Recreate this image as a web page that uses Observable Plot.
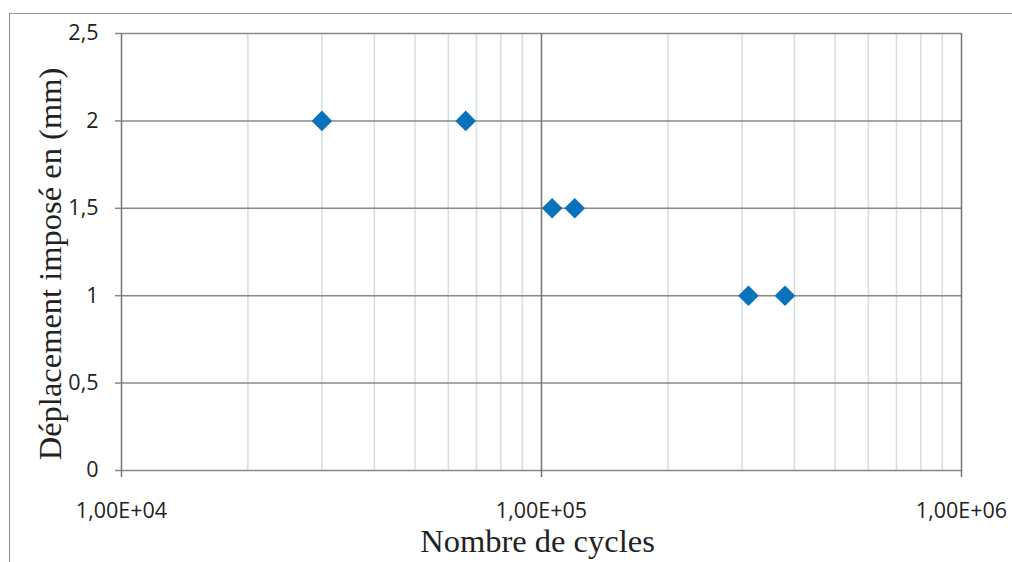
<!DOCTYPE html>
<html>
<head>
<meta charset="utf-8">
<script src="https://cdn.jsdelivr.net/npm/d3@7"></script>
<script src="https://cdn.jsdelivr.net/npm/@observablehq/plot@0.6"></script>
<style>
  html, body { margin: 0; padding: 0; background: #fff; }
  #wrap { position: relative; width: 1012px; height: 562px; overflow: hidden; }
  #frame { position: absolute; left: 9px; top: 13px; width: 1010px; height: 560px;
           border-left: 1.5px solid #8c8c8c; border-top: 1.5px solid #9a9a9a; pointer-events: none; }
</style>
</head>
<body>
<div id="wrap"><div id="frame"></div></div>
<script>
// Data
const cycles = [30000, 66000, 106000, 120000, 311000, 380000];
const displacement = [2, 2, 1.5, 1.5, 1, 1];
const yTicks = [0, 0.5, 1, 1.5, 2, 2.5];
const xMajorTicks = [1e4, 1e5, 1e6];
const xMinorTicks = [2e4, 3e4, 4e4, 5e4, 6e4, 7e4, 8e4, 9e4, 2e5, 3e5, 4e5, 5e5, 6e5, 7e5, 8e5, 9e5];
const xLabel = "Nombre de cycles";
const yLabel = "Déplacement imposé en (mm)";

const points = cycles.map((c, i) => ({cycles: c, disp: displacement[i]}));
const fmtX = d => "1,00E+" + String(Math.round(Math.log10(d))).padStart(2, "0");
const fmtY = d => String(d).replace(".", ",");

const chart = Plot.plot({
  width: 1012,
  height: 562,
  marginLeft: 121,
  marginRight: 51,
  marginTop: 33,
  marginBottom: 92,
  style: {background: "transparent", fontFamily: "'Open Sans', sans-serif"},
  x: {type: "log", domain: [1e4, 1e6]},
  y: {domain: [0, 2.5]},
  marks: [
    Plot.ruleX(xMinorTicks, {stroke: "#d3dfe2", strokeWidth: 1.5}),
    Plot.ruleY(yTicks, {stroke: "#888888", strokeWidth: 1.5, x1: 1e4, x2: 1e6}),
    Plot.ruleX(xMajorTicks, {stroke: "#747474", strokeWidth: 1.5}),
    Plot.axisY({ticks: yTicks, tickFormat: fmtY, tickSize: 6, tickPadding: 17,
      fontSize: 21.5, stroke: "#888888", strokeWidth: 1.5, color: "#222", label: null}),
    Plot.axisX({ticks: xMajorTicks, tickFormat: fmtX, tickSize: 7, tickPadding: 25,
      fontSize: 21.5, stroke: "#747474", strokeWidth: 1.5, color: "#222", label: null}),
    Plot.dot(points, {x: "cycles", y: "disp", symbol: "diamond2", r: 9.3,
      fill: "#0a72ba", stroke: "none"}),
    Plot.text([yLabel], {frameAnchor: "left", rotate: -90, dx: -71, dy: 12,
      textAnchor: "middle", lineAnchor: "middle", fontSize: 32.5,
      fontFamily: "'Liberation Serif', serif", fill: "#222"}),
    Plot.text([xLabel], {frameAnchor: "bottom", dx: -4, dy: 81,
      textAnchor: "middle", lineAnchor: "bottom", fontSize: 32.5,
      fontFamily: "'Liberation Serif', serif", fill: "#222"})
  ]
});
document.getElementById("wrap").prepend(chart);
</script>
</body>
</html>
